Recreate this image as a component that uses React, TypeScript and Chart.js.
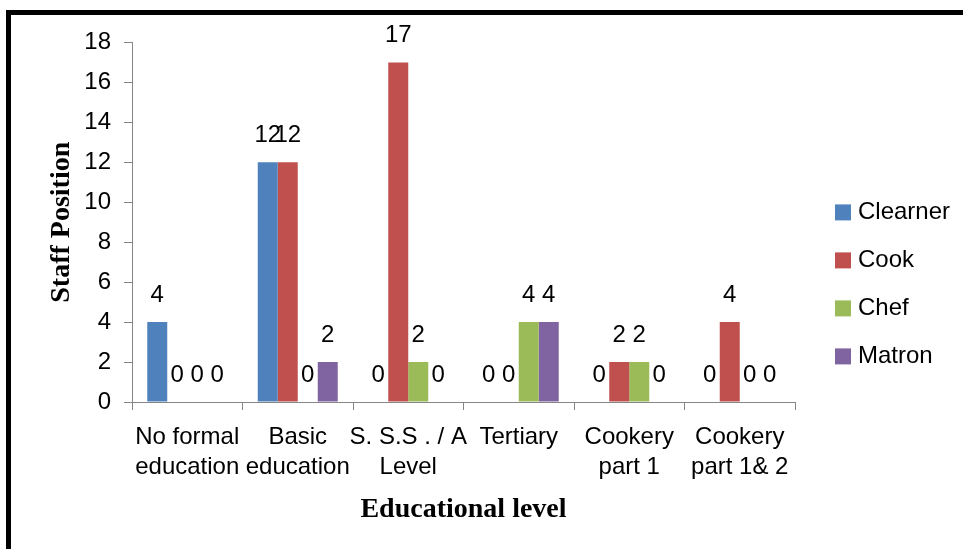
import React, { useEffect, useRef } from "react";
import { Chart, registerables } from "chart.js";

Chart.register(...registerables);

// ---- data ----
const categories: (string | string[])[] = [
  ["No formal", "education"],
  ["Basic", "education"],
  ["S. S.S . / A", "Level"],
  "Tertiary",
  ["Cookery", "part 1"],
  ["Cookery", "part 1& 2"],
];
const clearner = [4, 12, 0, 0, 0, 0];
const cook = [0, 12, 17, 0, 2, 4];
const chef = [0, 0, 2, 4, 2, 0];
const matron = [0, 2, 0, 4, 0, 0];
const seriesNames = ["Clearner", "Cook", "Chef", "Matron"];
const seriesColors = ["#4F81BD", "#C0504D", "#9BBB59", "#8064A2"];
const yMin = 0;
const yMax = 18;
const yStep = 2;
const yTitle = "Staff Position";
const xTitle = "Educational level";

const SANS = "'Liberation Sans', Arial, sans-serif";
const SERIF = "'Liberation Serif', 'Times New Roman', serif";
const AXIS_GRAY = "#868686";

const dataLabelsPlugin = {
  id: "dataLabels",
  afterDatasetsDraw(chart: any) {
    const ctx = chart.ctx;
    ctx.save();
    ctx.font = `24px ${SANS}`;
    ctx.fillStyle = "#000";
    ctx.textAlign = "center";
    ctx.textBaseline = "middle";
    chart.data.datasets.forEach((ds: any, i: number) => {
      const meta = chart.getDatasetMeta(i);
      meta.data.forEach((bar: any, j: number) => {
        ctx.fillText(String(ds.data[j]), bar.x, bar.y - 27);
      });
    });
    ctx.restore();
  },
};

const sideLegendPlugin = {
  id: "sideLegend",
  afterDraw(chart: any) {
    const ctx = chart.ctx;
    const area = chart.chartArea;
    const boxX = area.right + 40;
    const firstY = area.top + 170;
    const step = 48;
    ctx.save();
    ctx.font = `24px ${SANS}`;
    ctx.textAlign = "left";
    ctx.textBaseline = "middle";
    chart.data.datasets.forEach((ds: any, i: number) => {
      const cy = firstY + i * step;
      ctx.fillStyle = ds.backgroundColor;
      ctx.fillRect(boxX, cy - 8, 16, 16);
      ctx.fillStyle = "#000";
      ctx.fillText(ds.label, boxX + 23, cy);
    });
    ctx.restore();
  },
};

function BarChart() {
  const ref = useRef<HTMLCanvasElement | null>(null);
  useEffect(() => {
    if (!ref.current) return;
    const seriesData = [clearner, cook, chef, matron];
    const chart = new Chart(ref.current, {
      type: "bar",
      data: {
        labels: categories as any,
        datasets: seriesNames.map((name, i) => ({
          label: name,
          data: seriesData[i],
          backgroundColor: seriesColors[i],
          borderWidth: 0,
          categoryPercentage: 0.724,
          barPercentage: 1,
        })),
      },
      options: {
        responsive: false,
        animation: false,
        layout: { padding: { top: 27, right: 168, bottom: 0, left: 0 } },
        plugins: {
          legend: { display: false },
          tooltip: { enabled: false },
          title: { display: false },
        },
        scales: {
          x: {
            type: "category",
            offset: true,
            grid: {
              display: true,
              offset: true,
              drawOnChartArea: false,
              drawTicks: true,
              tickLength: 8,
              color: AXIS_GRAY,
              lineWidth: 1,
            },
            border: { display: true, color: AXIS_GRAY, width: 1 },
            ticks: {
              autoSkip: false,
              maxRotation: 0,
              minRotation: 0,
              padding: 12,
              color: "#000",
              font: { family: SANS, size: 24, lineHeight: 1.25 },
            },
            title: {
              display: true,
              text: xTitle,
              color: "#000",
              font: { family: SERIF, size: 28, weight: "bold", lineHeight: 1.2 },
              padding: { top: 0, bottom: 22 },
            },
            afterFit(scale: any) {
              scale.height = 147;
            },
          },
          y: {
            min: yMin,
            max: yMax,
            grid: {
              display: true,
              drawOnChartArea: false,
              drawTicks: true,
              tickLength: 8,
              color: AXIS_GRAY,
              lineWidth: 1,
            },
            border: { display: true, color: AXIS_GRAY, width: 1 },
            ticks: {
              stepSize: yStep,
              padding: 13,
              color: "#000",
              font: { family: SANS, size: 24 },
            },
            title: {
              display: true,
              text: yTitle,
              color: "#000",
              font: { family: SERIF, size: 28, weight: "bold", lineHeight: 1.2 },
              padding: { top: 34, bottom: 0 },
            },
            afterFit(scale: any) {
              scale.width = 121;
            },
          },
        },
      } as any,
      plugins: [dataLabelsPlugin, sideLegendPlugin],
    });
    return () => chart.destroy();
  }, []);
  return (
    <canvas
      ref={ref}
      width={952}
      height={534}
      style={{ display: "block", width: 952, height: 534 }}
    />
  );
}

export default function App() {
  return (
    <div
      style={{
        position: "absolute",
        left: 0,
        top: 0,
        width: 963,
        height: 549,
        overflow: "hidden",
        background: "#fff",
      }}
    >
      <div
        style={{
          position: "absolute",
          left: 6,
          top: 10,
          width: 1000,
          height: 600,
          borderTop: "5px solid #000",
          borderLeft: "5px solid #000",
        }}
      />
      <div style={{ position: "absolute", left: 11, top: 15 }}>
        <BarChart />
      </div>
    </div>
  );
}
